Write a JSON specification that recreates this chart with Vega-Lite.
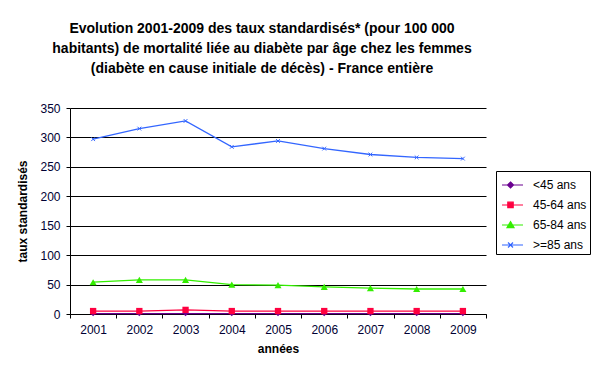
{
  "$schema": "https://vega.github.io/schema/vega-lite/v6.json",
  "autosize": "none",
  "width": 416,
  "height": 206,
  "padding": {"left": 70, "top": 108, "right": 114, "bottom": 60},
  "background": "white",
  "config": {
    "font": "Liberation Sans",
    "view": {"stroke": null}
  },
  "title": {
    "text": ["Evolution 2001-2009 des taux standardisés* (pour 100 000", "habitants) de mortalité liée au diabète par âge chez les femmes", "(diabète en cause initiale de décès) - France entière"],
    "font": "Liberation Sans",
    "fontSize": 14,
    "fontWeight": "bold",
    "color": "#000000",
    "anchor": "middle",
    "dx": -16,
    "offset": 26,
    "lineHeight": 20
  },
  "data": {
    "values": [
      {"annee": "2001", "serie": "<45 ans", "taux": 0.5},
      {"annee": "2002", "serie": "<45 ans", "taux": 0.5},
      {"annee": "2003", "serie": "<45 ans", "taux": 0.6},
      {"annee": "2004", "serie": "<45 ans", "taux": 0.5},
      {"annee": "2005", "serie": "<45 ans", "taux": 0.5},
      {"annee": "2006", "serie": "<45 ans", "taux": 0.5},
      {"annee": "2007", "serie": "<45 ans", "taux": 0.5},
      {"annee": "2008", "serie": "<45 ans", "taux": 0.5},
      {"annee": "2009", "serie": "<45 ans", "taux": 0.5},
      {"annee": "2001", "serie": "45-64 ans", "taux": 5},
      {"annee": "2002", "serie": "45-64 ans", "taux": 5},
      {"annee": "2003", "serie": "45-64 ans", "taux": 7},
      {"annee": "2004", "serie": "45-64 ans", "taux": 5},
      {"annee": "2005", "serie": "45-64 ans", "taux": 5},
      {"annee": "2006", "serie": "45-64 ans", "taux": 5},
      {"annee": "2007", "serie": "45-64 ans", "taux": 5},
      {"annee": "2008", "serie": "45-64 ans", "taux": 5},
      {"annee": "2009", "serie": "45-64 ans", "taux": 5},
      {"annee": "2001", "serie": "65-84 ans", "taux": 54},
      {"annee": "2002", "serie": "65-84 ans", "taux": 58},
      {"annee": "2003", "serie": "65-84 ans", "taux": 58},
      {"annee": "2004", "serie": "65-84 ans", "taux": 50},
      {"annee": "2005", "serie": "65-84 ans", "taux": 49},
      {"annee": "2006", "serie": "65-84 ans", "taux": 46},
      {"annee": "2007", "serie": "65-84 ans", "taux": 44},
      {"annee": "2008", "serie": "65-84 ans", "taux": 42.5},
      {"annee": "2009", "serie": "65-84 ans", "taux": 42.5},
      {"annee": "2001", "serie": ">=85 ans", "taux": 297},
      {"annee": "2002", "serie": ">=85 ans", "taux": 315},
      {"annee": "2003", "serie": ">=85 ans", "taux": 328},
      {"annee": "2004", "serie": ">=85 ans", "taux": 284},
      {"annee": "2005", "serie": ">=85 ans", "taux": 294},
      {"annee": "2006", "serie": ">=85 ans", "taux": 281},
      {"annee": "2007", "serie": ">=85 ans", "taux": 271},
      {"annee": "2008", "serie": ">=85 ans", "taux": 266},
      {"annee": "2009", "serie": ">=85 ans", "taux": 264}
    ]
  },
  "encoding": {
    "x": {
      "field": "annee",
      "type": "ordinal",
      "title": "années",
      "scale": {"type": "band", "paddingInner": 0, "paddingOuter": 0},
      "axis": {
        "labelAngle": 0,
        "labelFont": "Liberation Sans",
        "labelFontSize": 12,
        "labelColor": "#000033",
        "labelPadding": 6,
        "tickBand": "extent",
        "tickColor": "#000000",
        "tickSize": 4,
        "domainColor": "#000000",
        "titleFont": "Liberation Sans",
        "titleFontSize": 12,
        "titleFontWeight": "bold",
        "titleColor": "#000000",
        "titlePadding": 8,
        "grid": false
      }
    },
    "y": {
      "field": "taux",
      "type": "quantitative",
      "title": "taux standardisés",
      "scale": {"domain": [0, 350], "nice": false},
      "axis": {
        "values": [0, 50, 100, 150, 200, 250, 300, 350],
        "labelFont": "Liberation Sans",
        "labelFontSize": 12,
        "labelColor": "#000033",
        "labelPadding": 6,
        "tickColor": "#000000",
        "tickSize": 4,
        "domainColor": "#000000",
        "gridColor": "#000000",
        "gridOpacity": 1,
        "grid": true,
        "titleFont": "Liberation Sans",
        "titleFontSize": 12,
        "titleFontWeight": "bold",
        "titleColor": "#000000",
        "titlePadding": 10
      }
    }
  },
  "layer": [
    {
      "mark": {"type": "line", "strokeWidth": 1.3},
      "encoding": {
        "color": {
          "field": "serie",
          "type": "nominal",
          "scale": {"domain": ["<45 ans", "45-64 ans", "65-84 ans", ">=85 ans"], "range": ["#6a0090", "#ff0040", "#33ee00", "#3366ff"]},
          "legend": {
            "title": null,
            "orient": "none",
            "legendX": 426,
            "legendY": 63,
            "direction": "vertical",
            "strokeColor": "#000000",
            "fillColor": "#ffffff",
            "padding": 3,
            "labelFont": "Liberation Sans",
            "labelFontSize": 12,
            "labelColor": "#000000",
            "rowPadding": 3,
            "symbolSize": 400,
            "symbolStrokeWidth": 1.2,
            "labelOffset": 12,
            "encoding": {
              "symbols": {
                "shape": {"value": {"expr": "datum.value == '<45 ans' ? 'M-0.8,0H1.3M0.05,-0.3L0.35,0L0.05,0.3L-0.25,0Z' : datum.value == '45-64 ans' ? 'M-0.8,0H1.3M-0.22,-0.28H0.32V0.26H-0.22Z' : datum.value == '65-84 ans' ? 'M-0.8,0H1.3M0.05,-0.34L0.4,0.26H-0.3Z' : 'M-0.8,0H1.3M-0.2,-0.25L0.3,0.25M-0.2,0.25L0.3,-0.25'"}},
                "size": {"value": 400},
                "strokeWidth": {"value": 1.2},
                "fill": {"value": {"expr": "datum.value == '<45 ans' ? '#6a0090' : datum.value == '45-64 ans' ? '#ff0040' : datum.value == '65-84 ans' ? '#33ee00' : '#3366ff'"}},
                "stroke": {"value": {"expr": "datum.value == '<45 ans' ? '#6a0090' : datum.value == '45-64 ans' ? '#ff0040' : datum.value == '65-84 ans' ? '#33ee00' : '#3366ff'"}},
                "opacity": {"value": 1}
              }
            }
          }
        }
      }
    },
    {
      "transform": [{"filter": "datum.serie == '<45 ans'"}],
      "mark": {"type": "point", "filled": true, "opacity": 1, "shape": "diamond", "size": 25, "color": "#6a0090"}
    },
    {
      "transform": [{"filter": "datum.serie == '45-64 ans'"}],
      "mark": {"type": "point", "filled": true, "opacity": 1, "shape": "square", "size": 40, "color": "#ff0040"}
    },
    {
      "transform": [{"filter": "datum.serie == '65-84 ans'"}],
      "mark": {"type": "point", "filled": true, "opacity": 1, "shape": "triangle-up", "size": 50, "color": "#33ee00"}
    },
    {
      "transform": [{"filter": "datum.serie == '>=85 ans'"}],
      "mark": {"type": "point", "filled": false, "opacity": 1, "shape": "M-1,-1L1,1M-1,1L1,-1", "size": 14, "color": "#3366ff", "strokeWidth": 1}
    }
  ]
}
